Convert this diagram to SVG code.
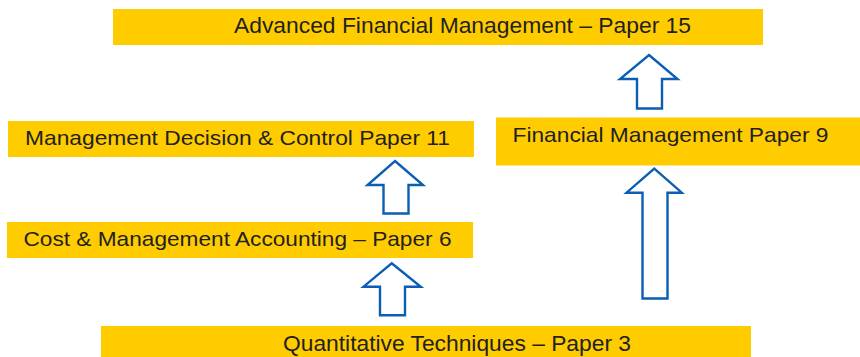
<svg xmlns="http://www.w3.org/2000/svg" width="860" height="357" viewBox="0 0 860 357">
<style>
.box{fill:#FFCC00}
.t{font-family:"Liberation Sans",Arial,sans-serif;fill:#231F20;font-size:21px}
.arr{fill:#FFFFFF;stroke:#0A5FB4;stroke-width:2.4;stroke-linejoin:miter}
</style>
<rect width="860" height="357" fill="#FFFFFF"/>
<g id="afm">
<rect class="box" x="113" y="9" width="650" height="36"/>
<text class="t" x="234" y="33" textLength="457" lengthAdjust="spacingAndGlyphs" style="font-size:22px">Advanced Financial Management – Paper 15</text>
</g>
<g id="mdc">
<rect class="box" x="8" y="121" width="466" height="36"/>
<text class="t" x="25" y="145" textLength="425" lengthAdjust="spacingAndGlyphs">Management Decision &amp; Control Paper 11</text>
</g>
<g id="fm">
<rect class="box" x="496" y="117.5" width="364" height="48"/>
<text class="t" x="512.5" y="142" textLength="316" lengthAdjust="spacingAndGlyphs">Financial Management Paper 9</text>
</g>
<g id="cma">
<rect class="box" x="7" y="222" width="466" height="36"/>
<text class="t" x="23.5" y="246" textLength="428" lengthAdjust="spacingAndGlyphs">Cost &amp; Management Accounting – Paper 6</text>
</g>
<g id="qt">
<rect class="box" x="101" y="326" width="650" height="31"/>
<text class="t" x="283" y="350.5" textLength="348" lengthAdjust="spacingAndGlyphs" style="font-size:22px">Quantitative Techniques – Paper 3</text>
</g>
<g id="connectors">
<path class="arr" d="M395,161 L423,185 L408.5,185 L408.5,213.5 L383.5,213.5 L383.5,185 L367.5,185 Z"/>
<path class="arr" d="M649,55 L677.5,79 L662,79 L662,108.5 L637,108.5 L637,79 L620,79 Z"/>
<path class="arr" d="M391.7,263.3 L420.8,286.7 L405,286.7 L405,315.2 L380,315.2 L380,286.7 L363.5,286.7 Z"/>
<path class="arr" d="M654.3,168.7 L681.8,192.7 L667.5,192.7 L667.5,298.5 L642.5,298.5 L642.5,192.7 L626.5,192.7 Z"/>
</g>
</svg>
